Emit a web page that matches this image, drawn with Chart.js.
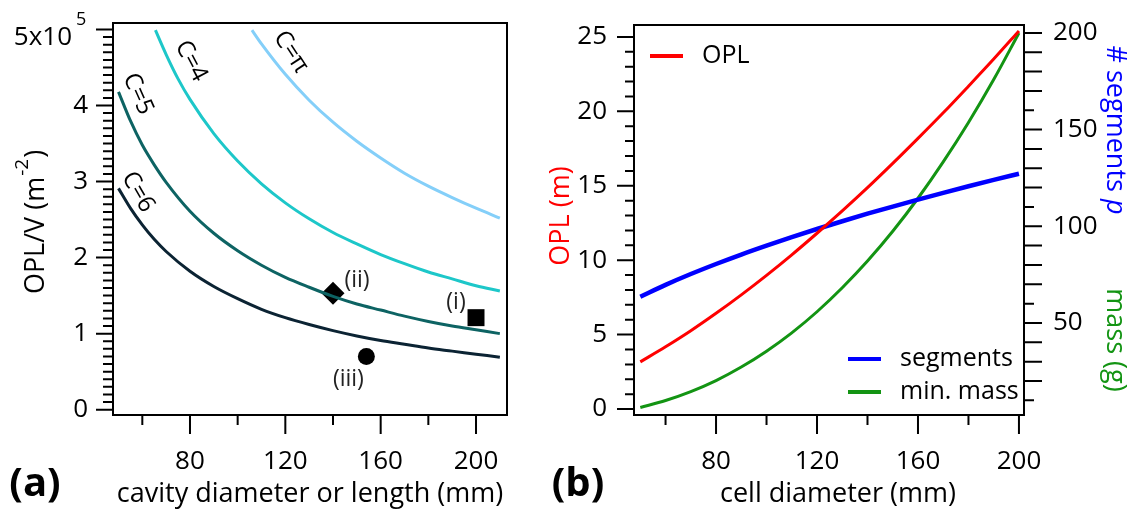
<!DOCTYPE html>
<html>
<head>
<meta charset="utf-8">
<title>OPL per volume and cell size</title>
<script src="https://cdn.jsdelivr.net/npm/chart.js"></script>
<style>
  html, body { margin: 0; padding: 0; background: #fff; }
  #chartA { position: absolute; left: 0; top: 0; }
  #chartB { position: absolute; left: 540px; top: 0; }
</style>
</head>
<body>
<canvas id="chartA" width="540" height="509"></canvas>
<canvas id="chartB" width="589" height="509"></canvas>
<script>
// ---- panel (a): OPL/V (x10^5 m^-2) vs cavity diameter, one curve per C ----
var dA   = [50, 55, 60, 65, 70, 80, 90, 100, 110, 120, 130, 140, 150, 160, 170, 180, 190, 200, 210];
var c6   = [2.91, 2.65, 2.43, 2.24, 2.08, 1.82, 1.62, 1.46, 1.32, 1.21, 1.12, 1.04, 0.97, 0.91, 0.86, 0.81, 0.77, 0.73, 0.69];
var c5   = [4.18, 3.80, 3.48, 3.22, 2.99, 2.61, 2.32, 2.09, 1.90, 1.74, 1.61, 1.49, 1.39, 1.31, 1.23, 1.16, 1.10, 1.05, 1.00];
var dC4  = [65.5, 70, 75, 80, 90, 100, 110, 120, 130, 140, 150, 160, 170, 180, 190, 200, 210];
var c4   = [4.99, 4.67, 4.35, 4.08, 3.63, 3.27, 2.97, 2.72, 2.51, 2.33, 2.18, 2.04, 1.92, 1.81, 1.72, 1.63, 1.56];
var dCpi = [106, 110, 120, 130, 140, 150, 160, 170, 180, 190, 200, 210];
var cPi  = [4.99, 4.81, 4.41, 4.07, 3.78, 3.53, 3.31, 3.11, 2.94, 2.79, 2.65, 2.52];

// the three built cells
var cellD     = [200, 140, 154];
var cellV     = [1.21, 1.53, 0.70];
var cellNames = ['(i)', '(ii)', '(iii)'];

// ---- panel (b): OPL, segments and mass vs cell diameter ----
var dB   = [50, 60, 70, 80, 90, 100, 110, 120, 130, 140, 150, 160, 170, 180, 190, 200];
var opl  = [3.17, 4.18, 5.26, 6.43, 7.67, 8.98, 10.36, 11.81, 13.31, 14.87, 16.50, 18.18, 19.90, 21.69, 23.51, 25.40];
var segs = [63.6, 69.7, 75.3, 80.5, 85.4, 90.0, 94.4, 98.6, 102.6, 106.5, 110.2, 113.8, 117.3, 120.7, 124.0, 127.2];
var mass = [6.3, 9.9, 14.5, 20.2, 27.2, 35.4, 44.9, 55.8, 68.2, 82.0, 97.4, 114.5, 133.3, 153.7, 175.9, 200];

// labelled tick values
var xTicks   = [80, 120, 160, 200];
var yTicksA  = [0, 1, 2, 3, 4, 5];
var yTicksB  = [0, 5, 10, 15, 20, 25];
var y2TicksB = [50, 100, 150, 200];

var FONT = "'Open Sans', sans-serif";
Chart.defaults.font.family = FONT;
Chart.defaults.font.size = 26;
Chart.defaults.color = '#000';

function pts(xs, ys) {
  return xs.map(function (x, i) { return { x: x, y: ys[i] }; });
}

function setTicks(vals) {
  return function (s) { s.ticks = vals.map(function (v) { return { value: v }; }); };
}

// fixed axis box, no extra room for overhanging labels
function fixSize(w, h) {
  return function (s) {
    if (w) s.width = w;
    if (h) s.height = h;
    s.paddingTop = 0; s.paddingBottom = 0;
    s.paddingLeft = 0; s.paddingRight = 0;
  };
}

function curve(label, xs, ys, color, width, axis) {
  return {
    label: label, data: pts(xs, ys), yAxisID: axis || 'y',
    borderColor: color, backgroundColor: color, borderWidth: width || 3,
    pointRadius: 0, fill: false, cubicInterpolationMode: 'monotone'
  };
}

// tick marks drawn along a scale, long ones every `every` steps
function tickMarks(ctx, scale, from, to, step, every, side, edge, longLen, shortLen) {
  var n = Math.round((to - from) / step);
  ctx.beginPath();
  for (var i = 0; i <= n; i++) {
    var v = from + i * step;
    var len = (i % every === 0) ? longLen : shortLen;
    var p = scale.getPixelForValue(v);
    if (side === 'left') { ctx.moveTo(edge, p); ctx.lineTo(edge - len, p); }
    if (side === 'right') { ctx.moveTo(edge, p); ctx.lineTo(edge + len, p); }
    if (side === 'bottom') { ctx.moveTo(p, edge); ctx.lineTo(p, edge + len); }
  }
  ctx.stroke();
}

function text(ctx, str, x, y, font, color, angle, align) {
  ctx.save();
  ctx.translate(x, y);
  ctx.rotate((angle || 0) * Math.PI / 180);
  ctx.font = font;
  ctx.fillStyle = color || '#000';
  ctx.textAlign = align || 'center';
  ctx.textBaseline = 'middle';
  ctx.fillText(str, 0, 0);
  ctx.restore();
}

function frame(ctx, a) {
  ctx.strokeStyle = '#000';
  ctx.lineWidth = 2;
  ctx.strokeRect(a.left, a.top, a.right - a.left, a.bottom - a.top);
}

var axisTicks = { display: false, drawTicks: false };

var decorA = {
  id: 'decorA',
  afterDraw: function (chart) {
    var ctx = chart.ctx, a = chart.chartArea, sx = chart.scales.x, sy = chart.scales.y;
    ctx.save();
    frame(ctx, a);
    tickMarks(ctx, sy, 0, 5, 0.1, 10, 'left', a.left, 17, 10);
    tickMarks(ctx, sx, 60, 200, 20, 2, 'bottom', a.bottom, 10, 19);

    // top tick label 5x10^5
    text(ctx, '5x10', 72, 38, '26px ' + FONT, '#000', 0, 'right');
    text(ctx, '5', 76, 20, '18px ' + FONT, '#000', 0, 'left');

    // y title with superscript
    ctx.save();
    ctx.translate(36, 222);
    ctx.rotate(-Math.PI / 2);
    ctx.textAlign = 'left';
    ctx.textBaseline = 'middle';
    ctx.fillStyle = '#000';
    ctx.font = '27px ' + FONT;
    var w1 = ctx.measureText('OPL/V (m').width;
    var w3 = ctx.measureText(')').width;
    ctx.font = '19px ' + FONT;
    var w2 = ctx.measureText('-2').width;
    var x0 = -(w1 + w2 + w3 + 2) / 2;
    ctx.font = '27px ' + FONT;
    ctx.fillText('OPL/V (m', x0, 0);
    ctx.fillText(')', x0 + w1 + w2 + 2, 0);
    ctx.font = '19px ' + FONT;
    ctx.fillText('-2', x0 + w1 + 1, -13);
    ctx.restore();

    text(ctx, 'cavity diameter or length (mm)', 310, 494, '27px ' + FONT);
    text(ctx, '(a)', 35, 485, 'bold 40px ' + FONT);

    // curve names
    text(ctx, 'C=\u03c0', 291, 52, '24px ' + FONT, '#000', 57);
    text(ctx, 'C=4', 191, 61, '24px ' + FONT, '#000', 62);
    text(ctx, 'C=5', 138, 94, '24px ' + FONT, '#000', 66);
    text(ctx, 'C=6', 138, 192, '24px ' + FONT, '#000', 60);

    // cell names next to their markers
    var offs = [[-20, -15], [24, -13], [-18, 23]];
    for (var i = 0; i < cellNames.length; i++) {
      var px = sx.getPixelForValue(cellD[i]), py = sy.getPixelForValue(cellV[i]);
      text(ctx, cellNames[i], px + offs[i][0], py + offs[i][1], '23px ' + FONT, '#222');
    }
    ctx.restore();
  }
};

new Chart(document.getElementById('chartA'), {
  type: 'line',
  data: {
    datasets: [
      curve('C=\u03c0', dCpi, cPi, '#84cff9', 3),
      curve('C=4', dC4, c4, '#1dc7c9', 3),
      curve('C=5', dA, c5, '#0d6363', 3),
      curve('C=6', dA, c6, '#0b2333', 3),
      {
        label: 'cells', data: pts(cellD, cellV), showLine: false,
        pointStyle: ['rect', 'rectRot', 'circle'], pointRadius: [12, 11.5, 8.5],
        pointBackgroundColor: '#000', pointBorderWidth: 0, borderColor: '#000'
      }
    ]
  },
  options: {
    responsive: false,
    animation: false,
    layout: { padding: { top: 23, right: 33, left: 0, bottom: 0 } },
    plugins: { legend: { display: false }, tooltip: { enabled: false } },
    scales: {
      x: {
        type: 'linear', min: 47.7, max: 213,
        grid: axisTicks, border: { display: false },
        ticks: { padding: 31, maxRotation: 0, autoSkip: false },
        afterBuildTicks: setTicks(xTicks),
        afterFit: fixSize(0, 94)
      },
      y: {
        type: 'linear', min: -0.07, max: 5.085,
        grid: axisTicks, border: { display: false },
        ticks: { padding: 25, callback: function (v) { return v === 5 ? '' : v; } },
        afterBuildTicks: setTicks(yTicksA),
        afterFit: fixSize(113, 0)
      }
    }
  },
  plugins: [decorA]
});

var legendB = [
  { i: 0, x: 110, y: 56 },
  { i: 1, x: 308, y: 359 },
  { i: 2, x: 308, y: 392 }
];

var decorB = {
  id: 'decorB',
  afterDraw: function (chart) {
    var ctx = chart.ctx, a = chart.chartArea;
    var sx = chart.scales.x, sy = chart.scales.y, s2 = chart.scales.y2;
    ctx.save();
    frame(ctx, a);
    tickMarks(ctx, sy, 0, 25, 1, 5, 'left', a.left, 17, 9);
    tickMarks(ctx, s2, 10, 200, 10, 5, 'right', a.right, 10, 18);
    tickMarks(ctx, sx, 60, 200, 20, 2, 'bottom', a.bottom, 10, 19);

    // legend entries
    legendB.forEach(function (e) {
      var ds = chart.data.datasets[e.i];
      ctx.strokeStyle = ds.borderColor;
      ctx.lineWidth = 4;
      ctx.beginPath();
      ctx.moveTo(e.x, e.y);
      ctx.lineTo(e.x + 33, e.y);
      ctx.stroke();
      text(ctx, ds.label, e.x + 52, e.y, '25px ' + FONT, '#000', 0, 'left');
    });

    text(ctx, 'OPL (m)', 21, 216, '27px ' + FONT, '#ff0000', -90);
    text(ctx, 'mass (g)', 575, 340, '27px ' + FONT, '#139413', 90);

    // right title with italic p
    ctx.save();
    ctx.translate(575, 130);
    ctx.rotate(Math.PI / 2);
    ctx.textBaseline = 'middle';
    ctx.textAlign = 'left';
    ctx.fillStyle = '#0000ff';
    ctx.font = '27px ' + FONT;
    var w1 = ctx.measureText('# segments ').width;
    ctx.font = 'italic 27px ' + FONT;
    var w2 = ctx.measureText('p').width;
    var x0 = -(w1 + w2) / 2;
    ctx.font = '27px ' + FONT;
    ctx.fillText('# segments ', x0, 0);
    ctx.font = 'italic 27px ' + FONT;
    ctx.fillText('p', x0 + w1, 0);
    ctx.restore();

    text(ctx, 'cell diameter (mm)', 298, 494, '27px ' + FONT);
    text(ctx, '(b)', 38, 485, 'bold 40px ' + FONT);
    ctx.restore();
  }
};

new Chart(document.getElementById('chartB'), {
  type: 'line',
  data: {
    datasets: [
      curve('OPL', dB, opl, '#ff0000', 3, 'y'),
      curve('segments', dB, segs, '#0000ff', 4.5, 'y2'),
      curve('min. mass', dB, mass, '#139413', 3, 'y2')
    ]
  },
  options: {
    responsive: false,
    animation: false,
    layout: { padding: { top: 25, right: 0, left: 0, bottom: 0 } },
    plugins: { legend: { display: false }, tooltip: { enabled: false } },
    scales: {
      x: {
        type: 'linear', min: 47.5, max: 202,
        grid: axisTicks, border: { display: false },
        ticks: { padding: 31, maxRotation: 0, autoSkip: false },
        afterBuildTicks: setTicks(xTicks),
        afterFit: fixSize(0, 94)
      },
      y: {
        type: 'linear', position: 'left', min: -0.4, max: 25.8,
        grid: axisTicks, border: { display: false },
        ticks: { padding: 27 },
        afterBuildTicks: setTicks(yTicksB),
        afterFit: fixSize(94, 0)
      },
      y2: {
        type: 'linear', position: 'right', min: 2.4, max: 204.1,
        grid: axisTicks, border: { display: false },
        ticks: { padding: 29 },
        afterBuildTicks: setTicks(y2TicksB),
        afterFit: fixSize(105, 0)
      }
    }
  },
  plugins: [decorB]
});
</script>
</body>
</html>
